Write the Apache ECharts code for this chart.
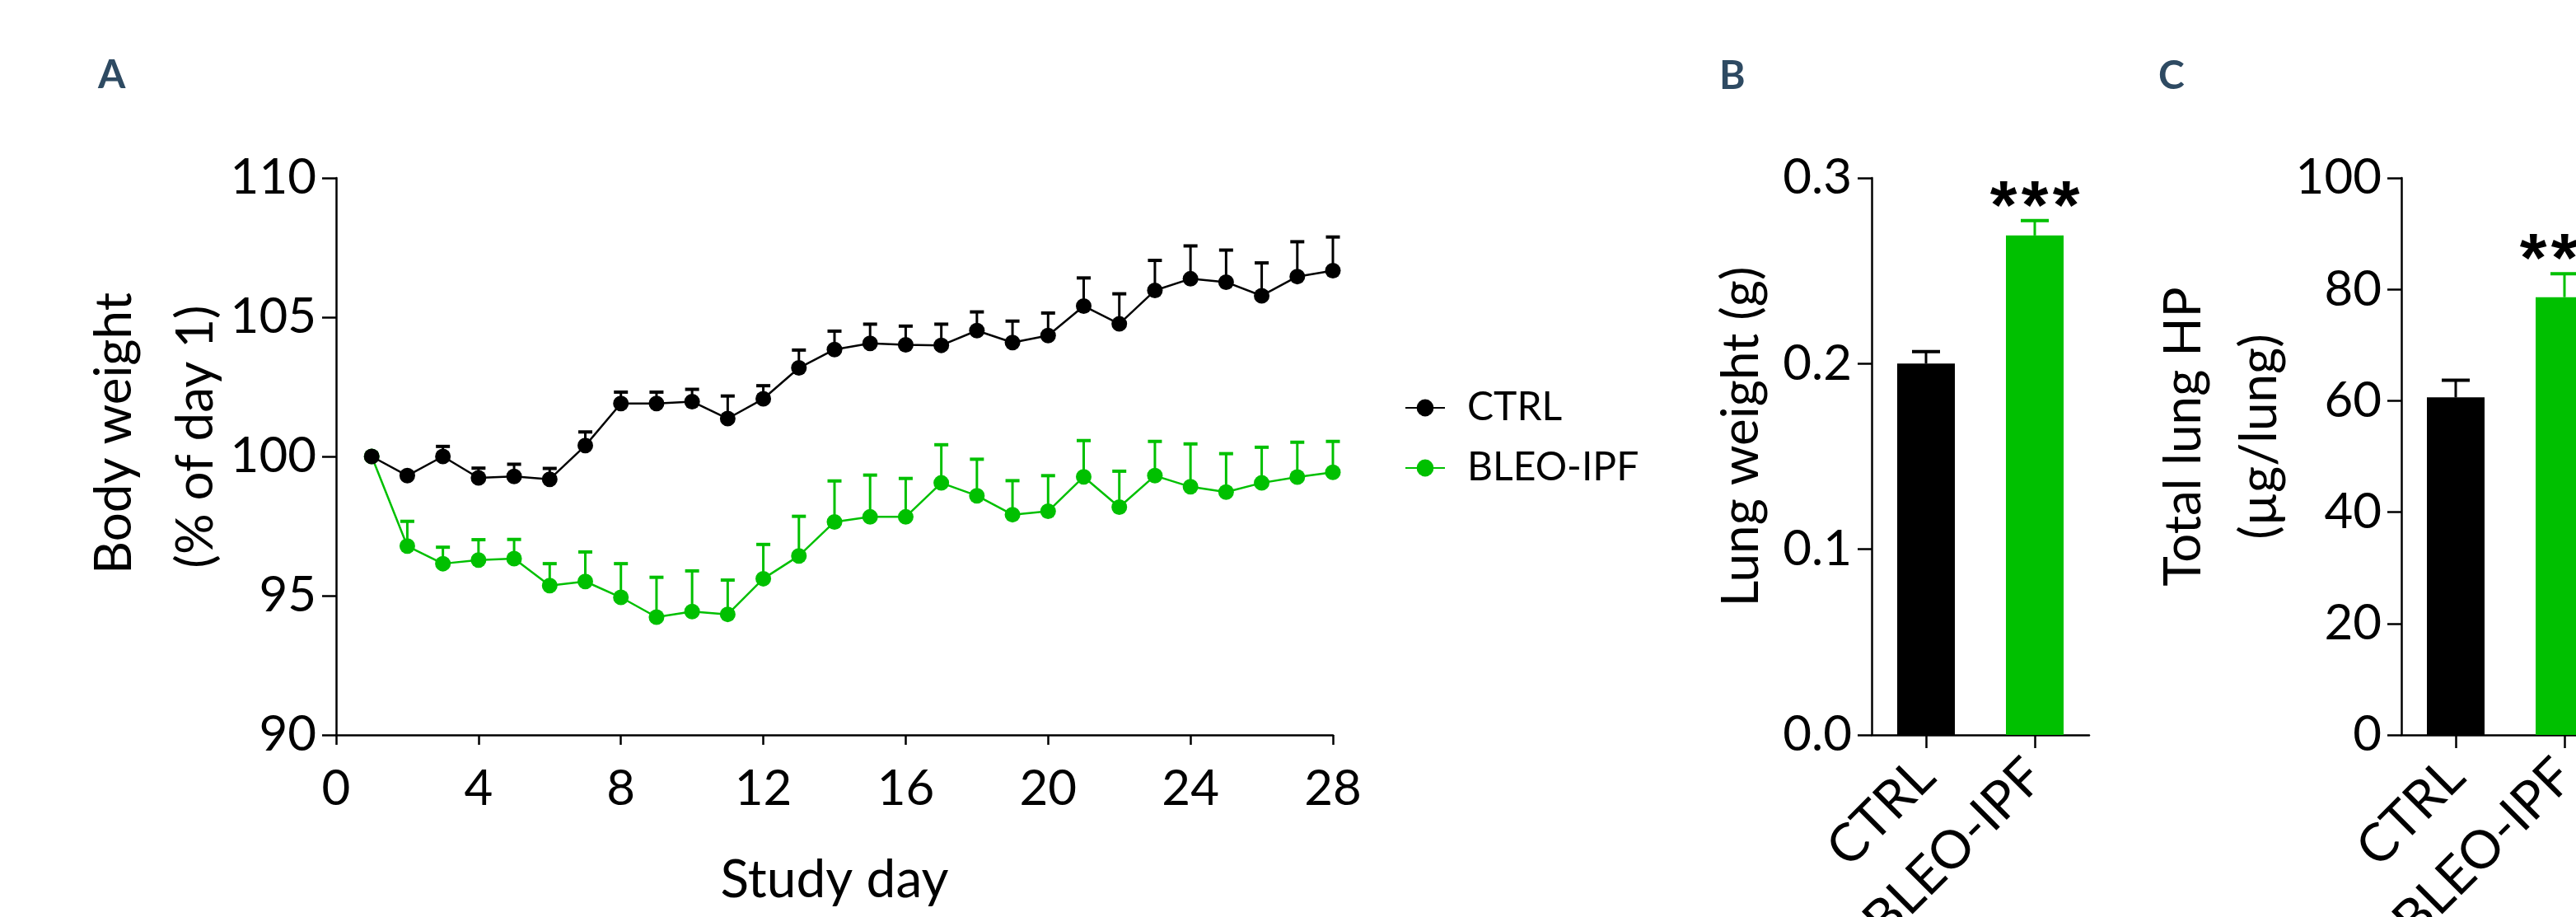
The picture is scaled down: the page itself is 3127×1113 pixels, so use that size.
<!DOCTYPE html>
<html><head><meta charset="utf-8">
<script src="https://cdn.jsdelivr.net/npm/echarts@6/dist/echarts.min.js"></script>
<style>html,body{margin:0;padding:0;background:#fff}#c{width:3127px;height:1113px}</style>
</head><body><div id="c"></div><script>
// ---- Panel A: body weight (% of day 1) ----
const days = [1,2,3,4,5,6,7,8,9,10,11,12,13,14,15,16,17,18,19,20,21,22,23,24,25,26,27,28];
const ctrlMean = [100.0,99.31,100.0,99.23,99.28,99.18,100.39,101.90,101.90,101.97,101.36,102.07,103.18,103.84,104.06,104.01,103.99,104.52,104.09,104.34,105.40,104.76,105.96,106.38,106.26,105.77,106.46,106.67];
const ctrlSem  = [0,0.1,0.36,0.35,0.44,0.39,0.49,0.41,0.41,0.44,0.81,0.47,0.64,0.66,0.69,0.67,0.76,0.67,0.77,0.81,1.01,1.08,1.08,1.18,1.15,1.18,1.25,1.21];
const bleoMean = [100.0,96.78,96.15,96.28,96.33,95.36,95.51,94.94,94.23,94.43,94.33,95.61,96.43,97.65,97.83,97.83,99.05,98.59,97.91,98.03,99.27,98.18,99.31,98.91,98.72,99.05,99.26,99.43];
const bleoSem  = [0,0.89,0.59,0.73,0.69,0.79,1.06,1.21,1.43,1.46,1.23,1.23,1.42,1.47,1.50,1.38,1.37,1.31,1.22,1.28,1.30,1.29,1.23,1.54,1.38,1.28,1.25,1.11];
const seriesNames = ['CTRL','BLEO-IPF'];

// ---- Panel B: lung weight (g) ----
const groups = ['CTRL','BLEO-IPF'];
const lungWeightMean = [0.200, 0.269];
const lungWeightSem  = [0.0065, 0.008];
const lungWeightSig  = ['', '***'];

// ---- Panel C: total lung HP (µg/lung) ----
const lungHpMean = [60.6, 78.6];
const lungHpSem  = [3.1, 4.2];
const lungHpSig  = ['', '***'];

const BLACK = '#000000';
const GREEN = '#00C000';
const FONT = 'Lato';
const LETTER = '#2E4A62';

function errRender(color, capW, lw) {
  return function (params, api) {
    const x = api.value(0), m = api.value(1), s = api.value(2);
    if (!s) return;
    const p0 = api.coord([x, m]), p1 = api.coord([x, m + s]);
    return {type: 'group', children: [
      {type: 'line', shape: {x1: p0[0], y1: p0[1], x2: p1[0], y2: p1[1]}, style: {stroke: color, lineWidth: lw}},
      {type: 'line', shape: {x1: p1[0] - capW / 2, y1: p1[1], x2: p1[0] + capW / 2, y2: p1[1]}, style: {stroke: color, lineWidth: lw + 1}}
    ]};
  };
}
const sigFor = {'sigB': lungWeightSig, 'sigC': lungHpSig};
function starRender(params, api) {
  const x = api.value(0), top = api.value(1);
  const txt = sigFor[params.seriesName][params.dataIndex];
  if (!txt) return;
  const p = api.coord([x, top]);
  const n = txt.length, step = 38;
  const children = [];
  for (let k = 0; k < n; k++) {
    children.push({type: 'text', x: p[0] + (k - (n - 1) / 2) * step, y: p[1] - 13,
      style: {text: txt[k], fontSize: 84, fontWeight: 'bold', fontFamily: 'Liberation Sans', fill: '#000', align: 'center', verticalAlign: 'middle'}});
  }
  return {type: 'group', children: children};
}

const ctrlLine = days.map((d, i) => [d, ctrlMean[i]]);
const bleoLine = days.map((d, i) => [d, bleoMean[i]]);
const ctrlErr = days.map((d, i) => [d, ctrlMean[i], ctrlSem[i]]);
const bleoErr = days.map((d, i) => [d, bleoMean[i], bleoSem[i]]);
const barColors = [BLACK, GREEN];
const lwBars = groups.map((g, i) => ({value: lungWeightMean[i], itemStyle: {color: barColors[i]}}));
const hpBars = groups.map((g, i) => ({value: lungHpMean[i], itemStyle: {color: barColors[i]}}));
const lwErr = groups.map((g, i) => [i, lungWeightMean[i], lungWeightSem[i]]);
const hpErr = groups.map((g, i) => [i, lungHpMean[i], lungHpSem[i]]);
const lwStar = groups.map((g, i) => [i, lungWeightMean[i] + lungWeightSem[i]]);
const hpStar = groups.map((g, i) => [i, lungHpMean[i] + lungHpSem[i]]);

const axLine = {show: true, onZero: false, lineStyle: {color: '#000', width: 2.5}};
const tick = (len) => ({show: true, length: len, lineStyle: {color: '#000', width: 2.5}});
const lbl = (extra) => Object.assign({fontSize: 60, fontFamily: FONT, color: '#000'}, extra);
const gridBase = {containLabel: false, outerBoundsMode: 'none'};

const chart = echarts.init(document.getElementById('c'));
chart.setOption({
  animation: false,
  backgroundColor: '#fff',
  grid: [
    Object.assign({left: 408, top: 216, width: 1210, height: 676}, gridBase),
    Object.assign({left: 2272, top: 216, width: 264, height: 676}, gridBase),
    Object.assign({left: 2915, top: 216, width: 264, height: 676}, gridBase)
  ],
  xAxis: [
    {gridIndex: 0, type: 'value', min: 0, max: 28, interval: 4, axisLine: axLine, axisTick: tick(12),
     axisLabel: lbl({margin: 36}), splitLine: {show: false}},
    {gridIndex: 1, type: 'category', data: groups, axisLine: axLine, axisTick: Object.assign(tick(16), {alignWithLabel: true}),
     axisLabel: lbl({rotate: 45, margin: 40, interval: 0, fontSize: 64})},
    {gridIndex: 2, type: 'category', data: groups, axisLine: axLine, axisTick: Object.assign(tick(16), {alignWithLabel: true}),
     axisLabel: lbl({rotate: 45, margin: 40, interval: 0, fontSize: 64})}
  ],
  yAxis: [
    {gridIndex: 0, type: 'value', min: 90, max: 110, interval: 5, axisLine: axLine, axisTick: tick(17),
     axisLabel: lbl({margin: 24}), splitLine: {show: false}},
    {gridIndex: 1, type: 'value', min: 0, max: 0.3, interval: 0.1, axisLine: axLine, axisTick: tick(17),
     axisLabel: lbl({margin: 24, formatter: v => v.toFixed(1)}), splitLine: {show: false}},
    {gridIndex: 2, type: 'value', min: 0, max: 100, interval: 20, axisLine: axLine, axisTick: tick(17),
     axisLabel: lbl({margin: 24}), splitLine: {show: false}}
  ],
  legend: {
    data: seriesNames, orient: 'vertical', left: 1700, top: 466, itemWidth: 48, itemHeight: 26, itemGap: 25,
    textStyle: {fontSize: 48, fontFamily: FONT, color: '#000', lineHeight: 48, padding: [0, 0, 0, 22]}
  },
  series: [
    {name: 'BLEO-IPF', type: 'line', xAxisIndex: 0, yAxisIndex: 0, data: bleoLine, symbol: 'circle', symbolSize: 19,
     itemStyle: {color: GREEN}, lineStyle: {color: GREEN, width: 2.5}, z: 2},
    {name: 'bleoErr', type: 'custom', xAxisIndex: 0, yAxisIndex: 0, data: bleoErr, renderItem: errRender(GREEN, 17, 3), z: 3},
    {name: 'CTRL', type: 'line', xAxisIndex: 0, yAxisIndex: 0, data: ctrlLine, symbol: 'circle', symbolSize: 19,
     itemStyle: {color: BLACK}, lineStyle: {color: BLACK, width: 2.5}, z: 4},
    {name: 'ctrlErr', type: 'custom', xAxisIndex: 0, yAxisIndex: 0, data: ctrlErr, renderItem: errRender(BLACK, 17, 3), z: 5},

    {name: 'lw', type: 'bar', xAxisIndex: 1, yAxisIndex: 1, data: lwBars, barWidth: 70, z: 2},
    {name: 'lwErrB', type: 'custom', xAxisIndex: 1, yAxisIndex: 1, data: [lwErr[0]], renderItem: errRender(BLACK, 34, 3), z: 3},
    {name: 'lwErrG', type: 'custom', xAxisIndex: 1, yAxisIndex: 1, data: [lwErr[1]], renderItem: errRender(GREEN, 34, 3), z: 3},
    {name: 'sigB', type: 'custom', xAxisIndex: 1, yAxisIndex: 1, data: lwStar, renderItem: starRender, z: 4},

    {name: 'hp', type: 'bar', xAxisIndex: 2, yAxisIndex: 2, data: hpBars, barWidth: 70, z: 2},
    {name: 'hpErrB', type: 'custom', xAxisIndex: 2, yAxisIndex: 2, data: [hpErr[0]], renderItem: errRender(BLACK, 34, 3), z: 3},
    {name: 'hpErrG', type: 'custom', xAxisIndex: 2, yAxisIndex: 2, data: [hpErr[1]], renderItem: errRender(GREEN, 34, 3), z: 3},
    {name: 'sigC', type: 'custom', xAxisIndex: 2, yAxisIndex: 2, data: hpStar, renderItem: starRender, z: 4}
  ],
  graphic: [
    {type: 'text', x: 119, y: 92, style: {text: 'A', fontSize: 48, fontWeight: 'bold', fontFamily: FONT, fill: LETTER, align: 'left', verticalAlign: 'middle'}},
    {type: 'text', x: 2087, y: 93, style: {text: 'B', fontSize: 48, fontWeight: 'bold', fontFamily: FONT, fill: LETTER, align: 'left', verticalAlign: 'middle'}},
    {type: 'text', x: 2620, y: 93, style: {text: 'C', fontSize: 48, fontWeight: 'bold', fontFamily: FONT, fill: LETTER, align: 'left', verticalAlign: 'middle'}},
    {type: 'text', x: 139, y: 526, rotation: Math.PI / 2, style: {text: 'Body weight', fontSize: 62, fontFamily: FONT, fill: '#000', align: 'center', verticalAlign: 'middle'}},
    {type: 'text', x: 238, y: 530, rotation: Math.PI / 2, style: {text: '(% of day 1)', fontSize: 62, fontFamily: FONT, fill: '#000', align: 'center', verticalAlign: 'middle'}},
    {type: 'text', x: 1013, y: 1068, style: {text: 'Study day', fontSize: 64, fontFamily: FONT, fill: '#000', align: 'center', verticalAlign: 'middle'}},
    {type: 'text', x: 2114, y: 530, rotation: Math.PI / 2, style: {text: 'Lung weight (g)', fontSize: 62, fontFamily: FONT, fill: '#000', align: 'center', verticalAlign: 'middle'}},
    {type: 'text', x: 2651, y: 530, rotation: Math.PI / 2, style: {text: 'Total lung HP', fontSize: 62, fontFamily: FONT, fill: '#000', align: 'center', verticalAlign: 'middle'}},
    {type: 'text', x: 2743, y: 530, rotation: Math.PI / 2, style: {text: '(µg/lung)', fontSize: 62, fontFamily: FONT, fill: '#000', align: 'center', verticalAlign: 'middle'}}
  ]
});
</script></body></html>
